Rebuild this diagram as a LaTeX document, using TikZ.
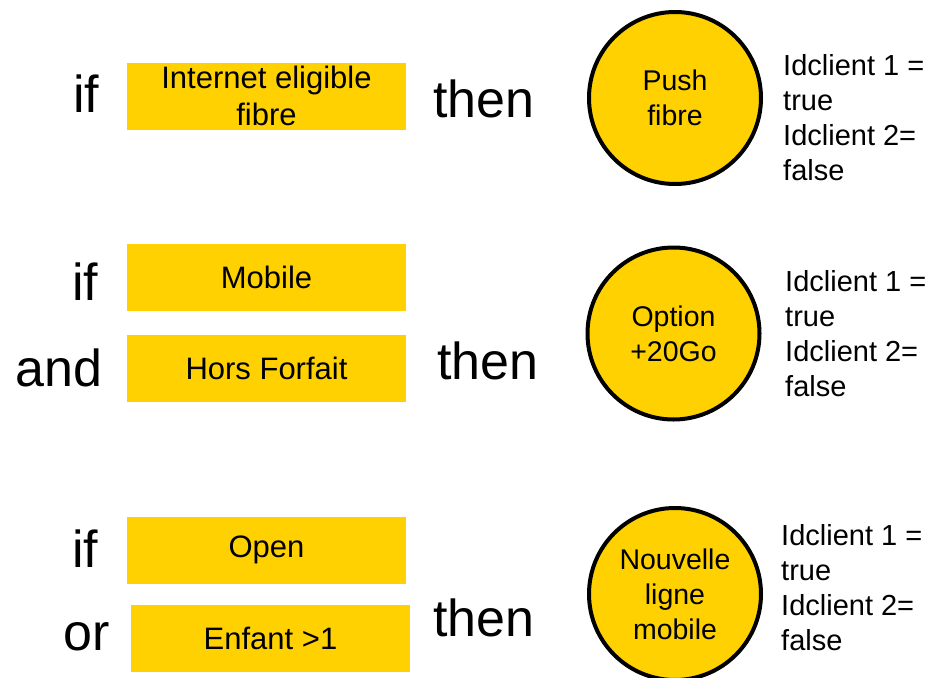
\documentclass[tikz,border=0pt]{standalone}
\usepackage{fontspec}
\setmainfont{Liberation Sans}
\usetikzlibrary{positioning}
\definecolor{offeryellow}{HTML}{FFD100}
\tikzset{
  word/.style={anchor=base,inner sep=0pt,font=\fontsize{52}{60}\selectfont},
  condbox/.style={fill=offeryellow,minimum width=279pt,minimum height=67pt,inner sep=0pt,align=center,font=\fontsize{31}{37}\selectfont},
  offer/.style={shape=circle,draw=black,line width=4pt,fill=offeryellow,minimum size=172pt,inner sep=0pt,align=center,font=\fontsize{28.5}{35}\selectfont},
  idtext/.style={anchor=west,inner sep=0pt,align=left,font=\fontsize{29}{35}\selectfont}
}

\begin{document}
\begin{tikzpicture}[x=1pt,y=-1pt]
    \useasboundingbox (0,0) rectangle (930,678);

    % fibre
    \node[word] (if_fibre) at (86,112) {if};
    \node[condbox] (eligible) at (266.5,96) {Internet eligible\\fibre};
    \node[word] (then_fibre) at (484,117) {then};
    \node[offer] (push) at (675,98) {Push\\fibre};
    \node[idtext] (id_fibre) at (783,117.5) {Idclient 1 =\\true\\Idclient 2=\\false};

    % mobile
    \node[word] (if_mobile) at (85,300) {if};
    \node[condbox] (mobile) at (266.5,277) {Mobile};
    \node[word] (and_mobile) at (59,386) {and};
    \node[condbox] (forfait) at (266.5,368) {Hors Forfait};
    \node[word] (then_mobile) at (488,379) {then};
    \node[offer] (option) at (673.5,333.5) {Option\\+20Go};
    \node[idtext] (id_mobile) at (785,333.5) {Idclient 1 =\\true\\Idclient 2=\\false};

    % ligne
    \node[word] (if_open) at (85,567) {if};
    \node[condbox] (open) at (266.5,550) {Open};
    \node[word] (or_open) at (87,650) {or};
    \node[condbox] (enfant) at (270.5,638) {Enfant >1};
    \node[word] (then_open) at (484,636) {then};
    \node[offer] (ligne) at (675,594) {Nouvelle\\ligne\\mobile};
    \node[idtext] (id_open) at (781,587.5) {Idclient 1 =\\true\\Idclient 2=\\false};
\end{tikzpicture}
\end{document}
